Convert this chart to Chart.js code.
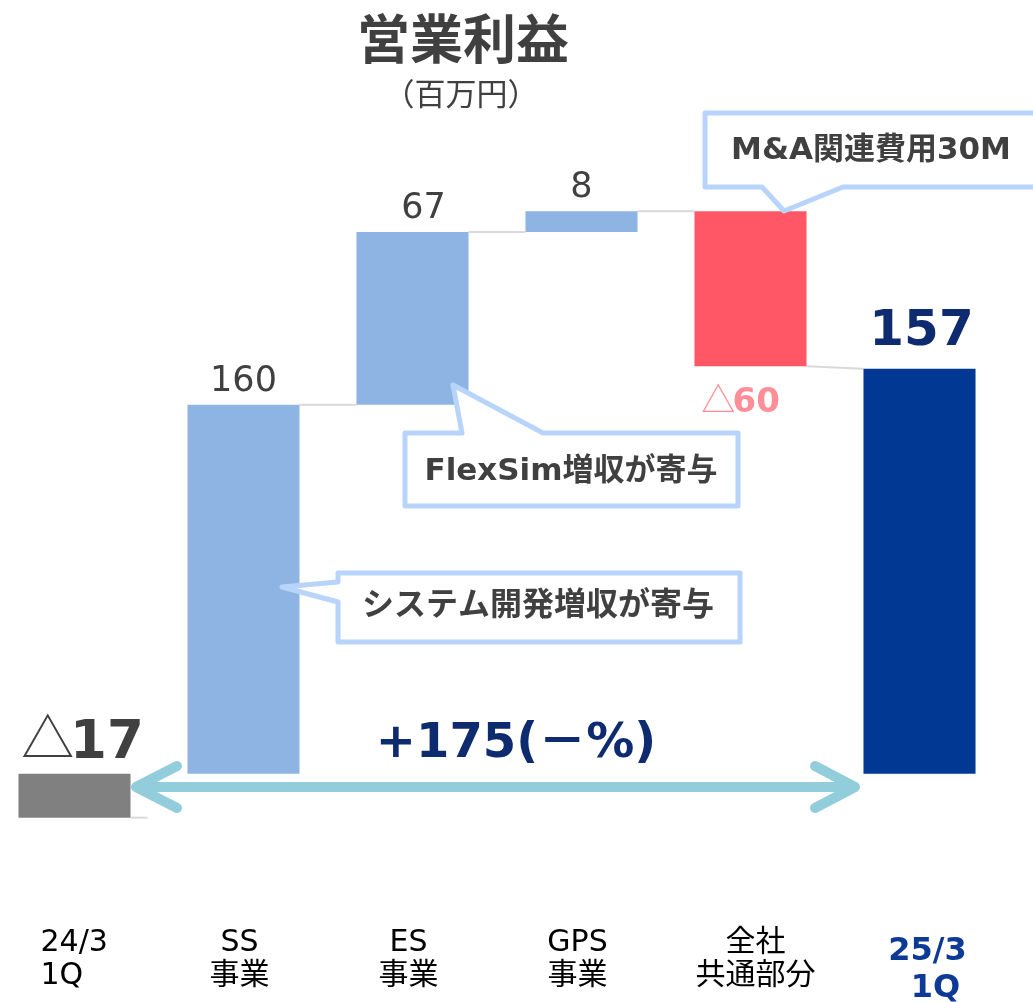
<!DOCTYPE html>
<html>
<head>
<meta charset="utf-8">
<script src="https://cdn.jsdelivr.net/npm/chart.js@4.4.0/dist/chart.umd.min.js"></script>
<style>
  html, body { margin: 0; padding: 0; background: #fff; overflow: hidden; }
  #wrap { position: absolute; left: -10px; top: 0; width: 1043px; height: 1002px; }
</style>
</head>
<body>
<div id="wrap"><canvas id="chart"></canvas></div>
<script>
const categories = [["24/3", "1Q"], ["SS", "事業"], ["ES", "事業"], ["GPS", "事業"], ["全社", "共通部分"], ["25/3", "1Q"]]
const barStart = [0, 0, 143, 210, 218, 0]
const barEnd = [-17, 143, 210, 218, 158, 157]
const valueLabels = ["△17", "160", "67", "8", "△60", "157"]
const barColors = ["#808080", "#8EB4E3", "#8EB4E3", "#8EB4E3", "#FF5766", "#003893"]
const totalChange = "+175(－%)"
const title = "営業利益"
const unit = "（百万円）"
const notes = ["M&A関連費用30M", "FlexSim増収が寄与", "システム開発増収が寄与"]

const OFF = 10 // canvas sits 10px left of the page
const JP = '"DejaVu Sans", "Noto Sans CJK JP", sans-serif'

function text(ctx, str, x, y, font, color, align) {
  ctx.font = font
  ctx.fillStyle = color
  ctx.textAlign = align || "center"
  ctx.textBaseline = "alphabetic"
  ctx.fillText(str, x, y)
}

// label with a thin triangle in front of a bold number
function deltaText(ctx, str, cx, y, size, color) {
  let tri = ""
  let num = str
  if (str[0] == "△") { tri = "△"; num = str.slice(1) }
  const triFont = `${size}px "Noto Sans CJK JP"`
  const numFont = `bold ${size}px ${JP}`
  ctx.font = triFont
  const tw = tri ? ctx.measureText(tri).width * 0.92 : 0
  ctx.font = numFont
  const nw = ctx.measureText(num).width
  const x0 = cx - (tw + nw) / 2
  if (tri) text(ctx, tri, x0, y, triFont, color, "left")
  text(ctx, num, x0 + tw, y, numFont, color, "left")
}

function callout(ctx, pts, label, tx, ty, size) {
  ctx.beginPath()
  ctx.moveTo(pts[0][0], pts[0][1])
  for (let p of pts.slice(1)) ctx.lineTo(p[0], p[1])
  ctx.closePath()
  ctx.fillStyle = "#fff"
  ctx.fill()
  ctx.lineWidth = 5
  ctx.lineJoin = "round"
  ctx.strokeStyle = "#B8D4FA"
  ctx.stroke()
  text(ctx, label, tx, ty, `bold ${size}px ${JP}`, "#404040")
}

const decor = {
  id: "decor",
  beforeDatasetsDraw(chart) {
    const ctx = chart.ctx
    const meta = chart.getDatasetMeta(0)
    const y = chart.scales.y
    const last = meta.data.length - 1
    ctx.save()
    ctx.strokeStyle = "#D9D9D9"
    ctx.lineWidth = 2
    for (let i = 0; i < last; i++) {
      const a = meta.data[i], b = meta.data[i + 1]
      const y1 = y.getPixelForValue(barEnd[i])
      const x1 = a.x + a.width / 2
      let x2 = b.x - b.width / 2
      let y2 = y.getPixelForValue(i + 1 == last ? barEnd[i + 1] : barStart[i + 1])
      if (i == 0) { x2 = x1 + 17; y2 = y1 }
      ctx.beginPath()
      ctx.moveTo(x1, y1)
      ctx.lineTo(x2, y2)
      ctx.stroke()
    }
    ctx.restore()
  },
  afterDatasetsDraw(chart) {
    const ctx = chart.ctx
    const meta = chart.getDatasetMeta(0)
    const y = chart.scales.y
    ctx.save()

    // title
    ctx.save()
    ctx.translate(OFF, 0)
    text(ctx, title, 463, 59, `bold 53px "Noto Sans CJK JP"`, "#404040")
    text(ctx, unit, 461, 105, `31px "Noto Sans CJK JP"`, "#404040")

    // double arrow
    ctx.strokeStyle = "#92CDDC"
    ctx.lineWidth = 10
    ctx.lineCap = "round"
    ctx.lineJoin = "round"
    ctx.beginPath()
    ctx.moveTo(136, 787); ctx.lineTo(855, 787)
    ctx.moveTo(177, 766); ctx.lineTo(136, 787); ctx.lineTo(177, 808)
    ctx.moveTo(815, 766); ctx.lineTo(855, 787); ctx.lineTo(815, 808)
    ctx.stroke()
    text(ctx, totalChange, 516, 757, `bold 48px ${JP}`, "#0E2B6F")

    // callouts
    callout(ctx, [[705, 113], [1045, 113], [1045, 187], [843, 187], [784, 211], [762, 187], [705, 187]],
      notes[0], 871, 159, 31)
    callout(ctx, [[405, 433], [462, 433], [453, 385], [543, 433], [738, 433], [738, 506], [405, 506]],
      notes[1], 571, 480, 31)
    callout(ctx, [[338, 573], [740, 573], [740, 642], [338, 642], [338, 602], [282, 587], [338, 582]],
      notes[2], 538, 615, 32)
    ctx.restore()

    // value labels
    meta.data.forEach((bar, i) => {
      const top = y.getPixelForValue(Math.max(barStart[i], barEnd[i]))
      const bottom = y.getPixelForValue(Math.min(barStart[i], barEnd[i]))
      const s = valueLabels[i]
      if (i == 0) deltaText(ctx, s, bar.x + 8, bottom - 60, 53, "#404040")
      else if (i == 4) deltaText(ctx, s, bar.x - 10, bottom + 46, 34, "#FF8E98")
      else if (i == 5) text(ctx, s, bar.x + 2, top - 24, `bold 50px ${JP}`, "#0E2B6F")
      else text(ctx, s, bar.x + (i == 2 ? 11 : 0), top - 14, `35px ${JP}`, "#404040")
    })

    // category labels
    const f = `30px ${JP}`
    meta.data.forEach((bar, i) => {
      const lines = categories[i]
      if (i == 0) {
        text(ctx, lines[0], bar.x - 34, 951, f, "#000", "left")
        text(ctx, lines[1], bar.x - 34, 984, f, "#000", "left")
      } else if (i == 5) {
        text(ctx, lines[0], bar.x + 8, 960, `bold 32px ${JP}`, "#0D3A97")
        text(ctx, lines[1], bar.x + 16, 997, `bold 32px ${JP}`, "#0D3A97")
      } else {
        const dx = i == 4 ? 5 : -4
        text(ctx, lines[0], bar.x + dx, 951, f, "#000")
        text(ctx, lines[1], bar.x + dx, 984, f, "#000")
      }
    })
    ctx.restore()
  }
}

new Chart(document.getElementById("chart"), {
  type: "bar",
  data: {
    labels: categories.map(c => c.join(" ")),
    datasets: [{
      data: barStart.map((s, i) => [s, barEnd[i]]),
      backgroundColor: barColors,
      borderWidth: 0,
      categoryPercentage: 1,
      barPercentage: 0.663
    }]
  },
  options: {
    responsive: true,
    maintainAspectRatio: false,
    animation: false,
    layout: { padding: { top: 103, bottom: 125, left: 0, right: 29 } },
    plugins: { legend: { display: false }, tooltip: { enabled: false } },
    scales: {
      x: { display: false },
      y: { display: false, min: -40, max: 260 }
    }
  },
  plugins: [decor]
})
</script>
</body>
</html>
